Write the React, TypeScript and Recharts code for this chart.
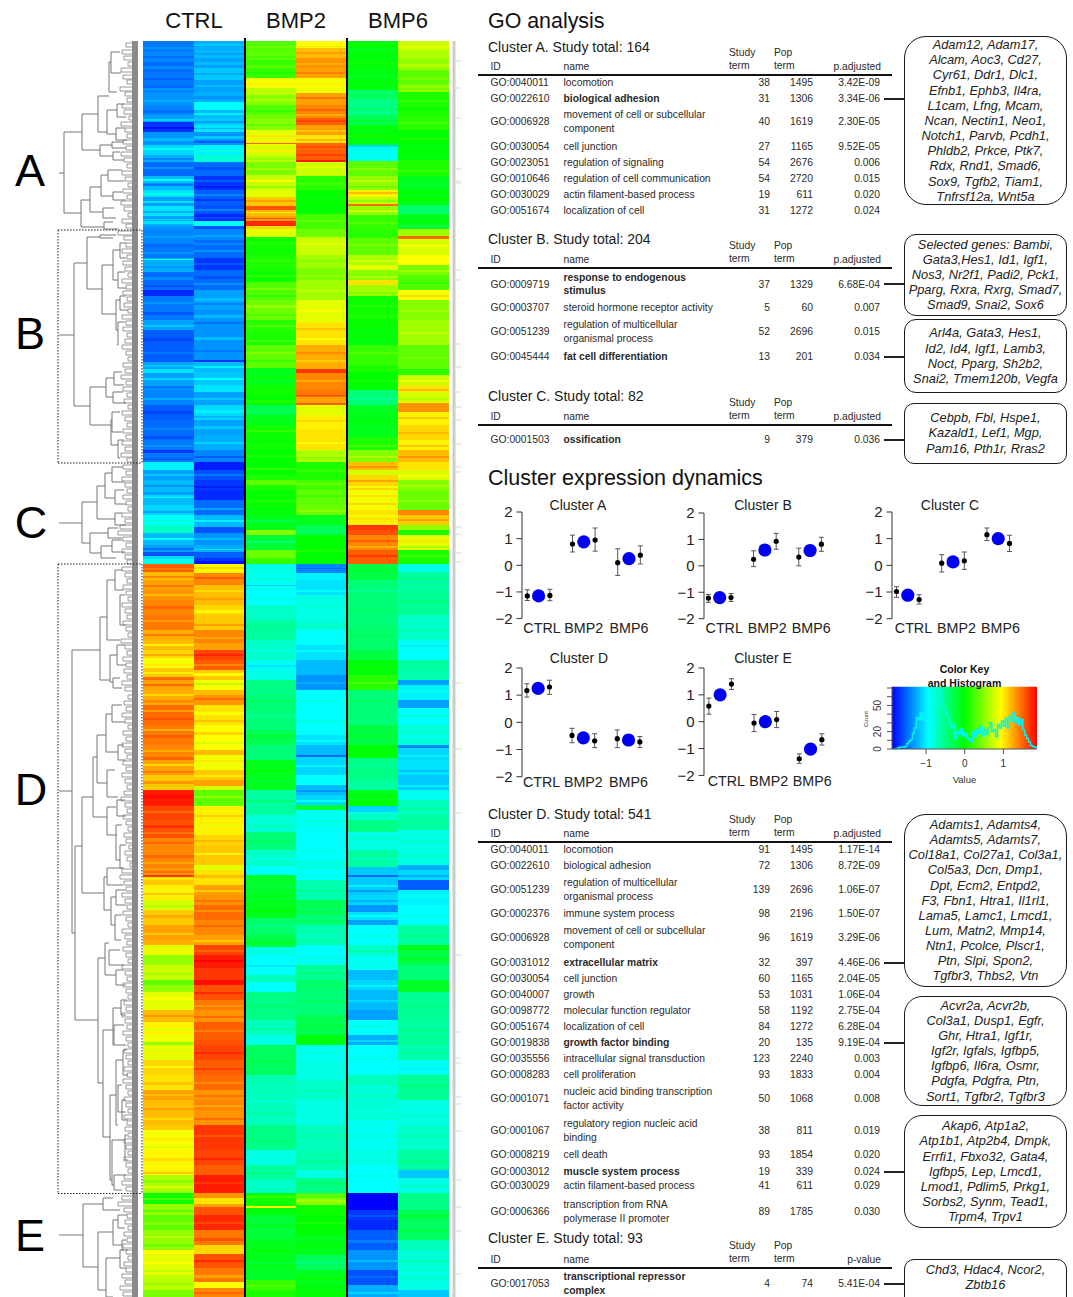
import React from "react";
import {
  BarChart, Bar, Cell, XAxis, YAxis, ScatterChart, Scatter, ErrorBar, ReferenceLine,
  ComposedChart, Line, ReferenceArea,
} from "recharts";

const FONT = "'Liberation Sans', Arial, sans-serif";

/* ---------- heatmap: [last row of the band, expression value] ---------- */
const ctrl1: number[][] = [[52,-1.45],[62,-1.4],[72,-1.5],[85,-1.45],[92,-1.5],[105,-1.35],[115,-1.4],[122,-1.3],[132,-1.7],[145,-1.35],[155,-1.1],[162,-1.25],[176,-1.5],[183,-1.2],[186,-1.35],[190,-1.2],[197,-1.05],[206,-1.3],[216,-1.05],[221,-1.3],[226,-1.05],[229,-1.35],
[247,-1.4],[258,-1.45],[272,-1.25],[290,-1.5],[296,-1.75],[320,-1.45],[330,-1.3],[345,-1.55],[362,-1.55],[369,-1.3],[373,-1.05],[390,-1.3],[405,-1.4],[420,-1.55],[440,-1.5],[450,-1.45],[453,-1.7],[462,-1.45],
[470,-1.0],[480,-1.3],[492,-1.2],[497,-1.3],[505,-1.2],[515,-1.1],[525,-0.95],[533,-0.75],[545,-1.2],[552,-1.3],[556,-1.6],[559,-1.1],[564,-0.85],
[572,1.55],[580,1.2],[590,1.3],[600,1.35],[615,1.4],[630,1.45],[640,1.25],[650,1.2],[658,1.1],[668,0.92],[677,1.15],[680,1.5],[690,1.3],[705,1.25],[725,1.5],[745,1.45],[760,1.4],[775,1.3],[790,1.15],[806,1.8],[820,1.65],[838,1.6],[850,1.4],[868,1.4],[875,1.35],[877,1.7],[880,1.05],[885,1.15],[900,1.0],[910,0.8],[925,1.15],[940,1.3],[945,1.25],[955,0.85],[965,0.55],[980,0.75],[985,0.35],[992,0.55],[1010,0.85],[1022,1.2],[1035,1.0],[1042,0.9],[1045,0.55],[1060,0.85],[1075,1.1],[1090,1.05],[1100,1.3],[1125,1.2],[1130,1.15],[1150,0.92],[1168,0.98],[1175,1.0],[1190,0.65],[1193,0.6],
[1204,0.05],[1215,0.55],[1230,0.35],[1250,0.55],[1254,0.95],[1275,0.85],[1290,0.7],[1297,0.45]];
const ctrl2: number[][] = [[50,-1.25],[58,-1.2],[68,-1.3],[80,-1.15],[92,-1.3],[102,-1.25],[110,-0.95],[118,-1.2],[125,-1.15],[132,-1.05],[145,-1.35],[155,-1.0],[162,-0.8],[176,-1.5],[190,-1.7],[205,-1.55],[214,-1.6],[221,-1.75],[226,-0.95],[229,-1.6],
[245,-1.4],[258,-1.5],[270,-1.7],[290,-1.5],[310,-1.3],[330,-1.35],[360,-1.35],[362,-1.7],[372,-1.2],[385,-1.15],[392,-1.05],[405,-1.3],[420,-1.1],[435,-1.3],[450,-1.25],[462,-1.4],
[470,-1.8],[480,-1.6],[490,-1.7],[500,-1.75],[515,-1.5],[527,-1.2],[533,-1.6],[545,-1.35],[552,-1.25],[558,-1.55],[561,-1.7],[564,-1.85],
[573,0.98],[585,1.4],[605,1.2],[615,1.1],[630,1.15],[643,1.4],[650,1.3],[660,1.65],[670,1.55],[680,1.15],[690,0.95],[695,1.2],[705,1.35],[725,1.05],[750,0.95],[755,1.2],[770,0.9],[780,1.15],[786,1.3],[790,0.8],[806,0.35],[835,1.0],[845,1.1],[865,1.15],[870,0.85],[885,1.05],[895,1.3],[905,1.35],[920,1.5],[935,1.4],[945,1.3],[955,1.65],[968,1.8],[980,1.7],[985,1.85],[1000,1.6],[1010,1.45],[1022,1.35],[1040,1.55],[1045,1.6],[1060,1.65],[1075,1.55],[1090,1.5],[1100,1.35],[1110,1.4],[1125,1.35],[1150,1.7],[1165,1.65],[1175,1.55],[1193,1.8],
[1198,1.35],[1204,1.05],[1207,1.3],[1215,1.6],[1230,1.75],[1245,1.45],[1254,1.1],[1268,1.6],[1282,1.45],[1288,0.95],[1297,1.4]];
const bmp2a: number[][] = [[52,0.3],[60,0.35],[78,0.2],[88,0.9],[95,0.7],[105,0.5],[118,0.3],[130,0.5],[140,0.85],[145,1.0],[155,0.8],[162,0.7],[175,0.45],[190,0.75],[197,0.85],[206,1.15],[210,1.6],[216,1.2],[221,1.3],[226,1.75],[229,1.1],
[237,0.85],[255,0.05],[270,0.1],[282,0.05],[300,0.3],[320,0.4],[330,0.15],[345,0.1],[368,0.35],[385,-0.1],[395,0.05],[405,0.0],[415,-0.3],[425,-0.1],[450,0.05],[462,0.0],
[475,0.0],[480,0.1],[485,0.35],[490,0.1],[515,0.02],[530,-0.1],[535,0.5],[550,-0.2],[558,0.4],[564,0.2],
[575,-0.85],[590,-0.9],[605,-0.95],[620,-0.75],[640,-0.6],[660,-0.75],[672,-0.9],[680,-0.85],[695,-0.5],[730,-0.45],[745,-0.3],[760,-0.45],[790,-0.1],[815,-0.6],[832,-0.8],[850,-0.45],[866,-0.75],[875,-0.95],[900,-0.15],[918,-0.1],[935,-0.4],[947,-0.25],[955,-0.85],[975,-0.95],[982,-0.7],[992,-0.95],[1020,-0.5],[1035,-0.7],[1045,-0.85],[1075,-0.35],[1085,-0.65],[1125,-0.7],[1150,-0.5],[1165,-0.85],[1180,-0.6],[1193,-0.75],
[1206,0.05],[1208,0.95],[1215,-0.05],[1240,-0.2],[1270,-0.1],[1280,-0.15],[1290,0.2],[1297,0.1]];
const bmp2b: number[][] = [[48,0.95],[58,1.2],[68,1.35],[78,1.3],[93,0.9],[105,1.3],[118,1.4],[125,1.55],[135,1.3],[143,1.05],[150,1.5],[160,1.55],[162,1.8],[176,0.75],[190,0.15],[204,0.02],[214,0.0],[229,0.25],
[237,0.4],[255,0.75],[268,0.6],[280,0.45],[300,0.6],[322,0.85],[345,1.05],[369,1.25],[373,1.7],[390,1.4],[397,1.45],[403,1.3],[405,1.55],[415,0.85],[430,1.0],[450,1.05],[462,0.65],
[480,0.1],[490,0.25],[505,0.35],[515,0.4],[525,-0.1],[535,-0.3],[564,0.0],
[573,-1.4],[580,-1.0],[595,-1.05],[615,-0.85],[620,-0.85],[630,-0.8],[645,-0.95],[660,-1.05],[675,-1.2],[690,-1.35],[735,-0.95],[745,-1.05],[755,-1.2],[757,-1.5],[775,-1.1],[785,-0.95],[795,-1.2],[805,-1.1],[810,-0.2],[830,-0.9],[860,-0.95],[870,-0.85],[880,-0.95],[900,-0.65],[915,-0.3],[925,-0.45],[945,-0.65],[955,-0.95],[965,-0.9],[980,-0.55],[990,-0.4],[1015,-0.45],[1035,-0.3],[1045,-0.05],[1060,-0.9],[1080,-0.85],[1100,-0.75],[1125,-0.85],[1150,-0.7],[1170,-0.65],[1178,-0.85],[1193,-0.5],
[1198,0.3],[1205,0.5],[1215,0.05],[1235,0.0],[1255,-0.1],[1270,-0.35],[1285,-0.1],[1297,-0.05]];
const bmp6a: number[][] = [[48,0.0],[54,-0.1],[90,-0.05],[100,-0.4],[115,-0.5],[125,-0.3],[145,-0.05],[147,-1.1],[161,-0.9],[176,0.35],[190,0.55],[197,1.0],[204,0.7],[206,1.5],[215,0.55],[229,0.2],
[238,0.15],[255,0.35],[265,0.65],[270,0.85],[280,0.5],[285,1.05],[296,0.6],[320,0.05],[330,0.02],[345,-0.05],[365,0.2],[372,0.1],[390,0.0],[405,-0.45],[410,-0.15],[437,-0.1],[450,0.1],[462,0.5],
[470,1.2],[475,0.8],[490,1.1],[510,0.9],[520,1.05],[525,1.0],[530,1.7],[535,1.6],[550,1.4],[564,1.55],
[580,-0.25],[600,-0.45],[625,-0.45],[650,-0.4],[660,-0.25],[675,-0.05],[690,0.15],[725,-0.45],[745,-0.25],[758,-0.02],[780,-0.5],[790,-0.6],[800,-0.1],[806,0.0],[812,-1.1],[820,-0.8],[832,-0.5],[850,-0.85],[867,-0.6],[875,-1.15],[877,-1.5],[895,-1.15],[905,-1.1],[912,-1.35],[920,-1.05],[925,-1.3],[945,-0.95],[955,-0.75],[970,-0.9],[980,-1.2],[990,-1.1],[1010,-1.2],[1020,-1.3],[1035,-0.95],[1045,-1.25],[1075,-0.95],[1085,-0.7],[1120,-0.8],[1150,-0.9],[1165,-0.85],[1193,-0.95],
[1210,-1.9],[1220,-1.7],[1230,-1.75],[1250,-1.55],[1270,-1.35],[1285,-1.6],[1297,-1.25]];
const bmp6b: number[][] = [[50,0.75],[58,0.65],[70,0.55],[85,0.35],[92,0.55],[115,0.1],[130,0.15],[145,0.0],[160,-0.05],[176,0.1],[190,-0.1],[205,-0.05],[214,-0.4],[225,-0.1],[229,-0.2],
[236,0.6],[239,1.5],[255,0.8],[265,0.95],[275,0.45],[290,0.3],[300,0.95],[320,0.5],[345,0.6],[369,0.35],[375,0.15],[385,0.75],[392,1.05],[403,0.8],[412,1.35],[425,1.0],[440,1.1],[450,1.0],[462,1.2],
[470,1.05],[480,0.8],[490,0.5],[510,0.4],[515,1.4],[525,1.15],[530,0.55],[535,0.1],[550,0.85],[564,0.1],
[572,-0.85],[590,-0.6],[615,-0.55],[640,-0.75],[650,-0.9],[660,-0.95],[670,-0.6],[680,-0.65],[685,-1.3],[700,-1.0],[708,-1.3],[725,-0.95],[745,-0.8],[748,-1.4],[760,-1.1],[775,-1.05],[790,-1.15],[800,-0.9],[815,-0.7],[830,-0.6],[865,-0.85],[870,-1.25],[880,-1.1],[890,-1.55],[905,-1.0],[925,-0.95],[945,-0.6],[950,-0.1],[965,-0.25],[980,-0.45],[992,-0.15],[1020,-0.55],[1035,-0.6],[1045,-0.55],[1060,-0.65],[1075,-0.9],[1100,-0.55],[1125,-0.85],[1150,-0.75],[1170,-0.6],[1178,-1.15],[1193,-0.85],
[1210,-0.5],[1220,-0.3],[1240,-0.35],[1250,-0.7],[1280,-0.8],[1290,-0.85],[1297,-1.15]];

/* fine stripes inside the bands: [row, rows tall, change in value] */
const ctrl1Fine = [[47,2,.1],[56,2,-.1],[66,3,.12],[78,2,-.1],[88,3,.15],[100,2,.1],[110,3,-.1],[119,2,.2],[127,2,-.15],[138,3,.15],[148,2,.2],[158,2,-.15],[167,2,.15],[179,2,.25],[184,2,-.1],[193,2,.2],[201,2,.25],[211,2,-.2],[219,1,.2],[224,2,-.2],[236,2,.1],[244,3,-.1],[252,2,.1],[259,1,.4],[266,2,-.1],[277,3,.12],[285,2,-.1],[302,2,.1],[312,3,-.12],[325,2,.15],[338,3,-.1],[352,2,.1],[365,2,.15],[378,2,.2],[386,3,-.15],[398,2,.15],[411,3,-.1],[428,2,.1],[436,3,-.1],[445,2,.1],[458,2,-.1],[474,2,.15],[485,2,-.15],[495,3,.2],[511,2,-.2],[520,2,.15],[538,2,.25],[548,2,-.2],[568,2,-.1],[576,2,.2],[585,2,.15],[594,2,-.15],[606,3,.12],[620,2,-.12],[634,2,.2],[644,2,-.2],[654,2,.15],[664,2,.1],[672,2,-.15],[684,2,.2],[694,2,-.15],[700,3,.12],[710,2,-.2],[718,2,.1],[729,2,-.2],[735,3,.1],[750,2,-.15],[757,3,.12],[764,2,-.2],[771,2,.15],[781,3,.2],[795,3,.06],[811,2,-.15],[825,3,.12],[832,2,-.12],[842,2,.12],[855,3,.12],[862,2,-.12],[871,2,.15],[893,2,.15],[905,2,-.15],[915,3,.12],[933,2,-.15],[951,2,.15],[973,2,-.12],[997,3,.1],[1015,2,.15],[1028,3,-.12],[1052,2,.15],[1066,2,-.12],[1082,3,.12],[1094,2,-.1],[1108,2,.12],[1118,2,-.12],[1138,3,.1],[1146,2,-.1],[1158,3,.1],[1172,2,.15],[1180,3,-.15],[1186,2,.15],[1198,2,.25],[1210,2,-.2],[1222,3,.15],[1236,2,.15],[1244,3,-.15],[1262,2,.12],[1270,2,-.12],[1283,2,-.15]];
const ctrl2Fine = [[44,2,.1],[53,2,-.1],[62,3,.1],[73,2,-.12],[85,2,.1],[96,3,-.1],[113,2,.2],[121,2,-.15],[128,1,-.2],[136,3,.2],[141,2,-.2],[150,2,.15],[167,3,-.1],[180,2,.15],[186,2,-.1],[194,2,.15],[199,2,-.15],[209,2,.2],[217,2,.1],[235,2,.12],[240,3,-.1],[250,2,.15],[263,2,.12],[276,3,-.1],[283,2,.15],[298,3,.12],[303,2,-.12],[315,3,.15],[322,2,-.12],[337,3,.15],[350,2,-.1],[366,2,.2],[378,2,.2],[398,2,.15],[410,3,.1],[416,2,-.12],[426,3,.15],[442,2,.15],[456,2,-.15],[474,2,.15],[486,2,-.1],[508,2,.2],[520,2,.2],[538,2,.15],[549,1,.2],[567,2,.12],[577,2,.15],[590,2,-.12],[598,2,.12],[610,3,-.12],[624,2,.15],[637,2,-.12],[654,2,.12],[664,2,-.15],[673,3,-.2],[683,2,-.25],[698,2,.15],[712,3,-.1],[720,2,.12],[732,3,.15],[742,2,-.15],[760,2,.15],[775,2,-.12],[796,2,.2],[815,2,.12],[825,2,-.12],[840,2,.12],[853,2,-.15],[875,3,.15],[890,2,-.15],[900,2,.12],[910,2,-.15],[925,2,.12],[940,2,-.15],[950,2,-.12],[960,2,.1],[992,2,.15],[1005,2,-.12],[1016,2,.15],[1030,2,-.12],[1052,2,.1],[1068,2,.12],[1082,2,-.12],[1095,2,.12],[1105,2,-.12],[1118,2,.15],[1135,2,-.12],[1158,2,.12],[1182,2,-.1],[1222,2,-.12],[1238,3,.15],[1260,2,.15],[1275,3,-.15],[1292,2,.12]];
const bmp2aFine = [[46,2,.1],[56,2,-.1],[65,3,.12],[72,2,-.1],[83,2,.1],[99,2,.15],[110,2,-.1],[115,2,.15],[124,2,-.15],[135,2,.2],[143,1,.5],[150,2,.2],[158,2,-.15],[168,2,.15],[180,2,.2],[186,2,-.2],[200,2,.15],[212,1,-.2],[218,1,.3],[242,3,.08],[260,2,.08],[275,2,.12],[288,2,.15],[295,2,-.12],[305,3,.15],[314,2,-.12],[325,2,.15],[340,2,.12],[352,2,.15],[360,2,-.12],[376,2,.12],[400,3,.1],[430,2,.15],[440,2,-.1],[455,2,.12],[468,2,.2],[500,2,.1],[510,3,-.1],[520,2,-.2],[541,2,-.25],[578,2,.12],[585,1,-.25],[598,2,.1],[625,2,.1],[650,2,-.12],[665,2,-.15],[700,2,.12],[715,2,-.1],[735,2,.15],[770,2,.12],[780,2,-.1],[800,2,.15],[825,2,.12],[840,2,.1],[858,2,-.12],[885,2,-.1],[895,2,.12],[910,2,.1],[925,2,-.12],[942,2,.12],[965,2,-.1],[1005,2,.12],[1028,2,.12],[1060,2,.1],[1100,2,-.1],[1112,2,.1],[1140,2,.1],[1172,2,.12],[1188,2,.1],[1196,2,.15],[1225,2,.12],[1250,2,.12],[1262,2,-.12],[1285,2,.1]];
const bmp2bFine = [[46,1,.1],[52,2,.12],[63,2,-.1],[72,2,.12],[83,2,.1],[97,2,.15],[109,2,.12],[114,2,-.15],[120,2,.1],[130,2,-.12],[139,2,.15],[146,2,.12],[154,2,.12],[166,2,.1],[183,2,.12],[197,2,-.08],[220,2,.12],[243,2,.1],[260,2,-.1],[275,2,.1],[290,2,.1],[310,2,.12],[328,2,.12],[338,2,-.1],[352,2,.12],[360,2,-.12],[380,2,-.15],[395,1,.2],[420,2,.1],[442,2,-.1],[457,2,-.12],[470,2,.1],[483,2,.12],[495,2,-.12],[510,2,.12],[530,2,-.1],[550,2,.1],[568,1,-.1],[590,2,.1],[605,1,.12],[625,2,.1],[650,2,.1],[682,2,.1],[700,2,.1],[720,2,.12],[740,2,.1],[765,2,.12],[790,2,-.15],[800,2,.15],[820,2,.1],[850,2,.1],[875,2,.1],[890,2,.12],[908,2,-.1],[920,2,.1],[935,2,-.1],[972,2,.1],[1000,2,.12],[1025,2,.1],[1052,2,.1],[1090,2,.1],[1135,2,.1],[1160,2,.1],[1183,2,.12],[1200,2,.12],[1222,2,.12],[1245,2,.1],[1262,2,-.1],[1278,2,.12],[1292,2,.1]];
const bmp6aFine = [[52,2,.1],[62,3,.1],[75,3,-.08],[95,2,.1],[108,2,.1],[120,2,.1],[135,2,.12],[168,2,.15],[180,2,.15],[186,2,-.15],[192,2,.2],[200,2,-.15],[210,2,.2],[222,2,.12],[244,2,.1],[260,2,.15],[276,2,.15],[292,2,-.12],[305,2,.08],[315,3,.08],[335,2,.08],[352,2,.12],[380,2,.08],[398,2,-.1],[420,2,.08],[445,2,.15],[456,2,.15],[466,2,.15],[480,2,.2],[486,2,-.2],[495,2,.15],[503,2,.2],[515,2,-.15],[540,2,.15],[546,2,-.15],[555,2,.15],[570,2,.1],[590,2,-.1],[610,2,.08],[635,2,.08],[668,2,.1],[682,2,.12],[700,2,.1],[735,2,.1],[765,2,-.1],[795,2,.08],[815,2,.12],[838,2,.12],[858,2,-.12],[885,2,.15],[890,2,-.15],[900,2,-.12],[915,2,.12],[935,2,.1],[950,2,.1],[985,2,.12],[1000,2,.12],[1025,2,.12],[1040,2,.15],[1058,2,.1],[1095,2,.1],[1110,2,-.08],[1135,2,.1],[1175,2,.08],[1215,2,.1],[1240,3,.12],[1260,2,.15],[1276,2,.1],[1292,2,.15]];
const bmp6bFine = [[46,2,.1],[64,3,.12],[78,2,.1],[88,2,-.1],[100,2,.1],[108,2,-.08],[122,2,.1],[138,2,.1],[152,2,.08],[170,2,.1],[183,2,-.1],[198,2,.08],[220,2,.1],[245,2,.12],[270,2,.12],[282,2,-.12],[295,2,.12],[310,2,.12],[332,2,.1],[357,2,.1],[380,2,.15],[389,2,.15],[398,2,-.15],[417,2,.15],[432,2,.12],[445,2,.15],[456,2,.15],[475,2,.15],[485,2,.12],[500,2,.12],[519,2,.15],[540,2,.2],[546,2,-.2],[555,2,.12],[578,2,.1],[600,2,.1],[630,2,.1],[645,2,-.12],[690,3,.12],[715,2,.15],[735,3,-.1],[755,2,.1],[770,2,-.12],[785,2,.15],[808,2,.12],[840,2,.1],[855,2,.12],[875,2,-.15],[895,2,.12],[915,2,.1],[935,2,.1],[958,2,.1],[1005,2,.1],[1030,2,.1],[1052,2,.1],[1068,2,-.1],[1085,2,.12],[1115,2,.1],[1135,2,.12],[1160,2,.1],[1185,2,.12],[1215,2,.12],[1230,2,.12],[1260,2,.15],[1272,2,-.1]];

const heatColumns = [ctrl1, ctrl2, bmp2a, bmp2b, bmp6a, bmp6b];
const heatFine = [ctrl1Fine, ctrl2Fine, bmp2aFine, bmp2bFine, bmp6aFine, bmp6bFine];
const heatNames = ["CTRL a", "CTRL b", "BMP2 a", "BMP2 b", "BMP6 a", "BMP6 b"];
const HEAT_FIRST_ROW = 41;

function jet(v: number): string {
  const t = Math.max(0, Math.min(3.9999, ((v + 1.9) / 3.8) * 4));
  const i = Math.floor(t), f = t - i;
  const stops = [[0, 0, 255], [0, 255, 255], [0, 255, 0], [255, 255, 0], [255, 0, 0]];
  const c = [0, 1, 2].map((k) => Math.round(stops[i][k] + (stops[i + 1][k] - stops[i][k]) * f));
  return `rgb(${c[0]},${c[1]},${c[2]})`;
}
function refine(col: number[][], fine: number[][]): number[][] {
  const vals: number[] = new Array(1297 - HEAT_FIRST_ROW).fill(0);
  let prev = HEAT_FIRST_ROW;
  col.forEach(([end, v]) => { for (let r = prev; r < end; r++) vals[r - HEAT_FIRST_ROW] = v; prev = end; });
  fine.forEach(([r, h, d]) => { for (let k = r; k < r + h; k++) vals[k - HEAT_FIRST_ROW] += d; });
  const out: number[][] = [];
  vals.forEach((v, i) => {
    const end = i + 1 + HEAT_FIRST_ROW;
    if (out.length && Math.abs(out[out.length - 1][1] - v) < 1e-9) out[out.length - 1][0] = end;
    else out.push([end, v]);
  });
  return out;
}
const heatBands = heatColumns.map((c, i) => refine(c, heatFine[i]));
const maxSeg = Math.max(...heatBands.map((c) => c.length));
const heatData = heatBands.map((col, ci) => {
  const d: any = { name: heatNames[ci] };
  let prev = HEAT_FIRST_ROW;
  col.forEach(([end], i) => { d[`s${i}`] = end - prev; prev = end; });
  return d;
});
const segIndex = Array.from({ length: maxSeg }, (_, i) => i);

/* ---------- dendrogram: [joinX, topY, bottomY, topChildX, bottomChildX] ---------- */
const rootStubs = [[59, 173, 64], [59, 335, 74], [59, 523, 82], [59, 791, 72], [59, 1235, 83]];
const merges = [
[64,132,213,82,81],[82,114,150,98,100],[98,96,132,109,107],[109,62,92,111,117],[111,52,73,120,121],[107,110,134,117,116],[117,104,117,124,126],[116,128,140,125,127],[100,145,156,112,113],[112,142,148,124,126],[113,152,160,120,124],[81,200,227,90,104],[90,187,212,101,103],[101,175,196,108,113],[108,170,181,122,124],[113,192,200,122,126],[103,208,218,114,116],[104,222,229,113,118],
[74,263,406,87,90],[87,237,289,100,102],[100,235,238,116,113],[102,265,314,113,116],[113,250,280,120,118],[120,243,258,126,126],[118,272,288,125,126],[116,300,330,120,118],[120,296,310,126,128],[118,322,345,125,117],[90,387,425,106,111],[106,378,397,114,113],[114,372,385,122,124],[113,392,403,123,126],[111,420,445,112,118],[112,412,432,120,122],[118,440,458,124,120],
[82,502,543,97,90],[97,486,519,105,115],[105,473,498,112,115],[112,467,482,123,125],[115,490,504,124,126],[115,513,525,122,126],[90,533,553,108,101],[108,528,538,118,122],[101,546,558,112,116],[112,540,552,122,125],
[72,650,933,100,75],[100,617,680,107,110],[107,580,640,115,120],[115,570,590,122,124],[120,595,625,125,126],[110,655,682,117,113],[117,645,665,125,126],[113,678,688,120,122],
[75,846,1020,82,98],[82,797,893,93,104],[93,757,817,97,107],[97,735,783,106,107],[106,714,752,112,118],[112,705,722,122,125],[118,745,760,124,126],[107,770,797,115,118],[107,807,835,116,117],[117,800,816,125,126],[116,825,860,122,120],[120,845,868,126,124],[104,877,910,107,111],[107,868,885,122,123],[111,897,925,116,115],[116,890,905,125,126],[115,915,940,122,121],
[98,958,1083,105,103],[105,943,975,109,116],[109,950,965,120,124],[116,970,985,124,126],[103,1030,1137,113,110],[113,1008,1045,121,114],[121,1000,1015,127,126],[114,1025,1045,124,126],[110,1095,1180,116,112],[116,1060,1125,123,118],[123,1050,1075,127,128],[118,1085,1112,122,126],[122,1100,1120,126,128],[112,1140,1185,125,114],[125,1135,1160,127,128],[114,1175,1190,126,122],
[83,1204,1267,103,98],[103,1198,1210,113,120],[98,1232,1290,113,106],[113,1220,1245,118,122],[118,1215,1228,127,125],[122,1240,1250,126,128],[106,1258,1297,120,113],[120,1250,1268,124,126],
];
const twigRowsA = [[43,126],[50,122],[56,124],[62,128],[68,121],[75,123],[80,127],[87,120],[92,125],[98,127],[104,122],[110,124],[116,129],[122,121],[128,125],[134,127],[140,123],[146,126],[152,121],[158,124],[164,127],[171,122],[177,125],[183,128],[189,123],[195,127],[201,121],[207,124],[213,128],[219,122],[224,126]];
const twigRowsB = [[231,118],[236,124],[243,126],[249,122],[255,127],[261,123],[267,125],[273,128],[279,122],[285,126],[291,123],[297,127],[303,124],[309,128],[315,122],[321,126],[327,123],[333,127],[339,125],[345,122],[351,126],[357,128],[363,123],[369,125],[375,121],[381,126],[387,123],[393,127],[399,124],[405,128],[411,122],[417,125],[423,127],[429,123],[435,126],[441,122],[447,125],[453,121],[458,127]];
const twigRowsC = [[465,123],[471,126],[477,122],[483,125],[489,127],[495,123],[501,126],[507,128],[513,122],[519,125],[525,120],[531,118],[537,123],[543,126],[549,122],[555,125],[560,127]];
const twigRowsD = [[567,122],[573,125],[579,127],[585,123],[591,126],[597,128],[603,122],[609,125],[615,127],[621,123],[627,126],[633,128],[639,121],[645,125],[651,127],[657,123],[663,126],[669,124],[675,127],[681,122],[687,125],[695,128],[701,124],[707,126],[713,122],[719,125],[725,128],[731,123],[737,126],[743,122],[749,125],[755,127],[761,123],[767,126],[773,122],[779,125],[785,127],[791,124],[797,121],[803,125],[809,127],[815,123],[821,126],[827,128],[833,124],[839,126],[845,129],[851,125],[857,127],[863,130],[869,122],[875,120],[881,124],[887,126],[893,122],[899,125],[905,127],[911,123],[917,126],[923,128],[929,122],[935,125],[941,127],[947,123],[953,126],[959,128],[965,122],[971,125],[977,127],[983,123],[989,126],[995,128],[1001,124],[1007,126],[1013,122],[1019,125],[1025,127],[1031,123],[1037,126],[1043,128],[1049,124],[1055,126],[1061,128],[1067,124],[1073,127],[1079,123],[1085,126],[1091,128],[1097,124],[1103,126],[1109,128],[1115,124],[1121,127],[1127,125],[1133,128],[1139,124],[1145,126],[1151,128],[1157,124],[1163,126],[1169,128],[1175,124],[1181,122],[1187,126]];
const twigRowsE = [[1196,122],[1202,118],[1208,124],[1214,127],[1220,125],[1226,128],[1232,124],[1238,127],[1244,123],[1250,126],[1256,128],[1262,124],[1268,126],[1274,122],[1280,125],[1286,120],[1292,123]];
const twigs = [...twigRowsA, ...twigRowsB, ...twigRowsC, ...twigRowsD, ...twigRowsE];
const stripTicks = [61,88,118,169,181,183,270,280,344,367,392,407,420,444,467,472,527,534,553,562,683,749,813,955,1032,1058,1063,1097,1104,1131,1180,1207,1231,1274];
const overlayCorners = [{ x: 0, y: 0 }, { x: 1073, y: 1297 }];

/* ---------- cluster dynamics ---------- */
const xPos = [1, 2, 3, 5, 6, 7, 9, 10, 11];
const repIdx = [0, 2, 3, 5, 6, 8];
const meanIdx = [1, 4, 7];
const categories = ["CTRL", "BMP2", "BMP6"];
const clusterARep = [[-1.15,-1.32,-0.92],[-1.13,-1.33,-0.9],[0.8,0.5,1.13],[0.95,0.53,1.4],[0.1,-0.38,0.62],[0.38,0.05,0.73]];
const clusterBRep = [[-1.22,-1.38,-1.08],[-1.2,-1.35,-1.05],[0.25,-0.03,0.57],[0.93,0.63,1.23],[0.33,0,0.67],[0.82,0.55,1.08]];
const clusterCRep = [[-0.98,-1.2,-0.8],[-1.28,-1.45,-1.1],[0.08,-0.25,0.4],[0.17,-0.15,0.5],[1.15,0.93,1.4],[0.82,0.52,1.13]];
const clusterDRep = [[1.17,0.93,1.42],[1.3,1.03,1.55],[-0.48,-0.75,-0.22],[-0.68,-0.93,-0.42],[-0.6,-0.93,-0.28],[-0.72,-0.93,-0.52]];
const clusterERep = [[0.58,0.28,0.88],[1.4,1.2,1.6],[-0.05,-0.37,0.27],[0.08,-0.22,0.38],[-1.38,-1.55,-1.2],[-0.67,-0.87,-0.45]];
const clusterAMean = [-1.15, 0.88, 0.25];
const clusterBMean = [-1.2, 0.6, 0.58];
const clusterCMean = [-1.12, 0.13, 1.0];
const clusterDMean = [1.25, -0.57, -0.65];
const clusterEMean = [1.0, 0.0, -1.02];
const panels = [
  { title: "Cluster A", rep: clusterARep, mean: clusterAMean, left: 521.5, top: 511.7, bot: 618.3, titleX: 578, titleY: 504.5, x0: 0.53, labelX: [2.3, 6, 10], labelDy: 14.5 },
  { title: "Cluster B", rep: clusterBRep, mean: clusterBMean, left: 703.6, top: 513.3, bot: 619, titleX: 763, titleY: 504.5, x0: 0.61, labelX: [2.4, 6.2, 10.1], labelDy: 14 },
  { title: "Cluster C", rep: clusterCRep, mean: clusterCMean, left: 892.4, top: 512.3, bot: 619, titleX: 950, titleY: 504.5, x0: 0.6, labelX: [2.5, 6.3, 10.2], labelDy: 14 },
  { title: "Cluster D", rep: clusterDRep, mean: clusterDMean, left: 521.5, top: 668, bot: 776.7, titleX: 579, titleY: 657.5, x0: 0.57, labelX: [2.3, 6, 10], labelDy: 10 },
  { title: "Cluster E", rep: clusterERep, mean: clusterEMean, left: 703.6, top: 668.3, bot: 775.7, titleX: 763, titleY: 657.5, x0: 0.57, labelX: [2.55, 6.3, 10.15], labelDy: 11 },
];

/* ---------- colour key histogram ---------- */
const histValue = [-1.85,-1.8,-1.75,-1.7,-1.65,-1.6,-1.55,-1.5,-1.45,-1.4,-1.35,-1.3,-1.25,-1.2,-1.15,-1.1,-1.05,-1,-0.95,-0.9,-0.85,-0.8,-0.75,-0.7,-0.65,-0.6,-0.55,-0.5,-0.45,-0.4,-0.35,-0.3,-0.25,-0.2,-0.15,-0.1,-0.05,0,0.05,0.1,0.15,0.2,0.25,0.3,0.35,0.4,0.45,0.5,0.55,0.6,0.65,0.7,0.75,0.8,0.85,0.9,0.95,1,1.05,1.1,1.15,1.2,1.25,1.3,1.35,1.4,1.45,1.5,1.55,1.6,1.65,1.7,1.75,1.8,1.85];
const histCount = [0,0,1,2,2,2,3,6,9,11,18,24,36,34,42,33,40,30,31,27,25,38,52,58,68,52,46,42,38,30,24,28,12,20,17,23,15,18,13,11,8,20,14,22,18,26,15,22,17,24,30,20,22,14,28,24,32,26,35,24,38,32,42,30,36,28,34,22,16,12,8,4,3,2,0];
const histData = histValue.map((v, i) => ({ v, c: histCount[i] }));

/* ---------- GO tables ---------- */
type Row = [string, string, number, number, string, boolean?];
const goA: Row[] = [["GO:0040011","locomotion",38,1495,"3.42E-09"],["GO:0022610","biological adhesion",31,1306,"3.34E-06",true],["GO:0006928","movement of cell or subcellular\ncomponent",40,1619,"2.30E-05"],["GO:0030054","cell junction",27,1165,"9.52E-05"],["GO:0023051","regulation of signaling",54,2676,"0.006"],["GO:0010646","regulation of cell communication",54,2720,"0.015"],["GO:0030029","actin filament-based process",19,611,"0.020"],["GO:0051674","localization of cell",31,1272,"0.024"]];
const goB: Row[] = [["GO:0009719","response to endogenous\nstimulus",37,1329,"6.68E-04",true],["GO:0003707","steroid hormone receptor activity",5,60,"0.007"],["GO:0051239","regulation of multicellular\norganismal process",52,2696,"0.015"],["GO:0045444","fat cell differentiation",13,201,"0.034",true]];
const goC: Row[] = [["GO:0001503","ossification",9,379,"0.036",true]];
const goD: Row[] = [["GO:0040011","locomotion",91,1495,"1.17E-14"],["GO:0022610","biological adhesion",72,1306,"8.72E-09"],["GO:0051239","regulation of multicellular\norganismal process",139,2696,"1.06E-07"],["GO:0002376","immune system process",98,2196,"1.50E-07"],["GO:0006928","movement of cell or subcellular\ncomponent",96,1619,"3.29E-06"],["GO:0031012","extracellular matrix",32,397,"4.46E-06",true],["GO:0030054","cell junction",60,1165,"2.04E-05"],["GO:0040007","growth",53,1031,"1.06E-04"],["GO:0098772","molecular function regulator",58,1192,"2.75E-04"],["GO:0051674","localization of cell",84,1272,"6.28E-04"],["GO:0019838","growth factor binding",20,135,"9.19E-04",true],["GO:0035556","intracellular signal transduction",123,2240,"0.003"],["GO:0008283","cell proliferation",93,1833,"0.004"],["GO:0001071","nucleic acid binding transcription\nfactor activity",50,1068,"0.008"],["GO:0001067","regulatory region nucleic acid\nbinding",38,811,"0.019"],["GO:0008219","cell death",93,1854,"0.020"],["GO:0003012","muscle system process",19,339,"0.024",true],["GO:0030029","actin filament-based process",41,611,"0.029"],["GO:0006366","transcription from RNA\npolymerase II promoter",89,1785,"0.030"]];
const goE: Row[] = [["GO:0017053","transcriptional repressor\ncomplex",4,74,"5.41E-04",true]];
const tables = [
  { title: "Cluster A. Study total: 164", rows: goA, ys: [83,99,122,147,163,179,195,211], titleY: 47, studyY: 53, termY: 66, headY: 67, ruleY: 74, pLabel: "p.adjusted" },
  { title: "Cluster B. Study total: 204", rows: goB, ys: [284.5,308,332,357], titleY: 239, studyY: 246, termY: 259, headY: 260, ruleY: 267, pLabel: "p.adjusted" },
  { title: "Cluster C. Study total: 82", rows: goC, ys: [440], titleY: 396, studyY: 403, termY: 416, headY: 417, ruleY: 424, pLabel: "p.adjusted" },
  { title: "Cluster D. Study total: 541", rows: goD, ys: [850,866,890,914,938,963,979,995,1011,1027,1043,1059,1075,1099,1131,1155,1172,1186,1212], titleY: 814, studyY: 820, termY: 833, headY: 834, ruleY: 841, pLabel: "p.adjusted" },
  { title: "Cluster E. Study total: 93", rows: goE, ys: [1284], titleY: 1238, studyY: 1246, termY: 1259, headY: 1260, ruleY: 1267, pLabel: "p-value" },
];

const boxes = [
  { top: 36, bottom: 205, r: 22, link: 99, lines: ["Adam12, Adam17,","Alcam, Aoc3, Cd27,","Cyr61, Ddr1, Dlc1,","Efnb1, Ephb3, Il4ra,","L1cam, Lfng, Mcam,","Ncan, Nectin1, Neo1,","Notch1, Parvb, Pcdh1,","Phldb2, Prkce, Ptk7,","Rdx, Rnd1, Smad6,","Sox9, Tgfb2, Tiam1,","Tnfrsf12a, Wnt5a"] },
  { top: 233.5, bottom: 316, r: 12, link: 284, lines: ["Selected genes: Bambi,","Gata3,Hes1, Id1, Igf1,","Nos3, Nr2f1, Padi2, Pck1,","Pparg, Rxra, Rxrg, Smad7,","Smad9, Snai2, Sox6"] },
  { top: 318.5, bottom: 393, r: 12, link: 357, lines: ["Arl4a, Gata3, Hes1,","Id2, Id4, Igf1, Lamb3,","Noct, Pparg, Sh2b2,","Snai2, Tmem120b, Vegfa"] },
  { top: 402.5, bottom: 463.5, r: 10, link: 440, lines: ["Cebpb, Fbl, Hspe1,","Kazald1, Lef1, Mgp,","Pam16, Pth1r, Rras2"] },
  { top: 813.5, bottom: 987, r: 22, link: 963, lines: ["Adamts1, Adamts4,","Adamts5, Adamts7,","Col18a1, Col27a1, Col3a1,","Col5a3, Dcn, Dmp1,","Dpt, Ecm2, Entpd2,","F3, Fbn1, Htra1, Il1rl1,","Lama5, Lamc1, Lmcd1,","Lum, Matn2, Mmp14,","Ntn1, Pcolce, Plscr1,","Ptn, Slpi, Spon2,","Tgfbr3, Thbs2, Vtn"] },
  { top: 995.5, bottom: 1106, r: 18, link: 1043, lines: ["Acvr2a, Acvr2b,","Col3a1, Dusp1, Egfr,","Ghr, Htra1, Igf1r,","Igf2r, Igfals, Igfbp5,","Igfbp6, Il6ra, Osmr,","Pdgfa, Pdgfra, Ptn,","Sort1, Tgfbr2, Tgfbr3"] },
  { top: 1115, bottom: 1227.5, r: 18, link: 1172, lines: ["Akap6, Atp1a2,","Atp1b1, Atp2b4, Dmpk,","Errfi1, Fbxo32, Gata4,","Igfbp5, Lep, Lmcd1,","Lmod1, Pdlim5, Prkg1,","Sorbs2, Synm, Tead1,","Trpm4, Trpv1"] },
  { top: 1259, bottom: 1310, r: 10, link: 1284, lines: ["Chd3, Hdac4, Ncor2,","Zbtb16"], textTop: 1266 },
];

const sampleHeads = [["CTRL", 194], ["BMP2", 296], ["BMP6", 398]] as [string, number][];
const clusterLetters = [["A", 30, 171], ["B", 30, 334], ["C", 31, 523], ["D", 31, 790], ["E", 30, 1236]] as [string, number, number][];

/* ---------- helpers ---------- */
function T({ x, y, right, size = 10.3, bold, italic, color = "#2a2a2a", center, children }: any) {
  const st: React.CSSProperties = {
    position: "absolute", top: y - 10, height: 20, lineHeight: "20px", fontSize: size, fontFamily: FONT,
    fontWeight: bold ? "bold" : "normal", fontStyle: italic ? "italic" : "normal", color, whiteSpace: "nowrap",
  };
  if (right !== undefined) { st.right = 1073 - right; }
  else if (center) { st.left = x - 200; st.width = 400; st.textAlign = "center"; }
  else st.left = x;
  return <div style={st}>{children}</div>;
}

function HeatMap() {
  return (
    <div style={{ position: "absolute", left: 143, top: HEAT_FIRST_ROW, filter: "blur(0.35px)" }}>
      <BarChart width={306} height={1256} data={heatData} margin={{ top: 0, right: 0, bottom: 0, left: 0 }} barCategoryGap={0} barGap={0}>
        <XAxis dataKey="name" hide />
        <YAxis type="number" domain={[0, 1256]} reversed hide />
        {segIndex.map((i) => (
          <Bar key={i} dataKey={`s${i}`} stackId="h" isAnimationActive={false}>
            {heatBands.map((col, c) => <Cell key={c} fill={col[i] ? jet(col[i][1]) : "transparent"} />)}
          </Bar>
        ))}
      </BarChart>
    </div>
  );
}

const LINE = "#777777";
function seg(k: string, x1: number, y1: number, x2: number, y2: number, stroke = LINE, w = 1, dash?: string) {
  return <ReferenceLine key={k} segment={[{ x: x1, y: y1 }, { x: x2, y: y2 }]} stroke={stroke} strokeWidth={w} strokeDasharray={dash} ifOverflow="visible" />;
}

function Overlay() {
  const els: React.ReactNode[] = [];
  rootStubs.forEach(([a, y, b], i) => els.push(seg(`st${i}`, a, y, b, y)));
  merges.forEach(([x, t, b, cx1, cx2], i) => {
    els.push(seg(`mv${i}`, x, t, x, b));
    els.push(seg(`mt${i}`, x, t, cx1, t));
    els.push(seg(`mb${i}`, x, b, cx2, b));
  });
  twigs.forEach(([y, x], i) => {
    els.push(seg(`tv${i}`, x, y, x, y + 4, "#808080", 0.8));
    els.push(seg(`tt${i}`, x, y, 137, y, "#808080", 0.8));
    els.push(seg(`tb${i}`, x, y + 4, 137, y + 4, "#808080", 0.8));
  });
  stripTicks.forEach((y, i) => els.push(seg(`rt${i}`, 456, y, 461, y, "#bbbbbb", 0.6)));
  return (
    <div style={{ position: "absolute", left: 0, top: 0, pointerEvents: "none" }}>
      <ScatterChart width={1073} height={1297} margin={{ top: 0, right: 0, bottom: 0, left: 0 }}>
        <XAxis type="number" dataKey="x" domain={[0, 1073]} hide />
        <YAxis type="number" dataKey="y" domain={[0, 1297]} reversed hide />
        <Scatter data={overlayCorners} isAnimationActive={false} shape={() => <g />} />
        {els}
        {seg("g1", 135, 41, 135, 1297, "#8a8a8a", 6)}
        {seg("s1", 454, 41, 454, 1297, "#cccccc", 3)}
        {seg("v1", 245, 38, 245, 1297, "#000", 2)}
        {seg("v2", 347, 38, 347, 1297, "#000", 2)}
        {seg("bt", 58, 230, 142, 230, "#222", 1, "1.5 1.5")}
        {seg("bl", 58, 230, 58, 463, "#222", 1, "1.5 1.5")}
        {seg("bb", 58, 463, 142, 463, "#222", 1, "1.5 1.5")}
        {seg("br", 142, 230, 142, 463, "#222", 1, "1.5 1.5")}
        {seg("dt", 58, 564, 142, 564, "#222", 1, "1.5 1.5")}
        {seg("dl", 58, 564, 58, 1193.5, "#222", 1, "1.5 1.5")}
        {seg("db", 58, 1193.5, 142, 1193.5, "#222", 1, "1.5 1.5")}
        {seg("dr", 142, 564, 142, 1193.5, "#222", 1, "1.5 1.5")}
      </ScatterChart>
    </div>
  );
}

const yLabel = (v: number) => (v < 0 ? `\u2212${-v}` : `${v}`);
function Panel({ p }: { p: (typeof panels)[number] }) {
  const axisW = 36, mt = 12, xh = 24, unit = 11.3;
  const x1 = 11.9;
  const plotW = (x1 - p.x0) * unit;
  const plotH = p.bot - p.top;
  const repData = repIdx.map((xi, i) => {
    const [m, lo, hi] = p.rep[i];
    return { x: xPos[xi], y: m, err: [m - lo, hi - m] };
  });
  const meanData = meanIdx.map((xi, i) => ({ x: xPos[xi], y: p.mean[i] }));
  const tick = (props: any) => {
    const i = p.labelX.indexOf(props.payload.value);
    return <text x={props.x} y={plotH + mt + p.labelDy} textAnchor="middle" fontSize={14.3} fontFamily={FONT} fill="#222">{categories[i]}</text>;
  };
  return (
    <div style={{ position: "absolute", left: p.left - axisW, top: p.top - mt }}>
      <ScatterChart width={axisW + plotW} height={mt + plotH + xh} margin={{ top: mt, right: 0, bottom: 0, left: 0 }}>
        <XAxis type="number" dataKey="x" domain={[p.x0, x1]} ticks={p.labelX} interval={0} tick={tick} axisLine={false} tickLine={false} height={xh} allowDataOverflow />
        <YAxis type="number" dataKey="y" domain={[-2, 2]} ticks={[-2, -1, 0, 1, 2]} interval={0} width={axisW} tickSize={5.5} tickMargin={4} tickFormatter={yLabel}
          tick={{ fontSize: 15, fontFamily: FONT, fill: "#222" }} stroke="#333" />
        <Scatter data={repData} isAnimationActive={false} fill="#000" shape={(s: any) => <circle cx={s.cx} cy={s.cy} r={2.6} fill="#000" />}>
          <ErrorBar dataKey="err" direction="y" width={2.5} stroke="#555" strokeWidth={1} isAnimationActive={false} />
        </Scatter>
        <Scatter data={meanData} isAnimationActive={false} fill="#0000f0" shape={(s: any) => <circle cx={s.cx} cy={s.cy} r={6.6} fill="#0000f0" />} />
      </ScatterChart>
    </div>
  );
}

function ColorKey() {
  const keyTick = (props: any) => {
    const v = props.payload.value;
    if (![0, 20, 50].includes(v)) return <g />;
    return <text transform={`translate(${props.x - 8},${props.y}) rotate(-90)`} textAnchor="middle" fontSize={10} fontFamily={FONT} fill="#333" dy={3.5}>{v}</text>;
  };
  return (
    <div style={{ position: "absolute", left: 860, top: 682 }}>
      <ComposedChart width={180} height={92} data={histData} margin={{ top: 4.7, right: 3, bottom: 0, left: 0 }}>
        <defs>
          <linearGradient id="keyGrad" x1="0" x2="1" y1="0" y2="0">
            <stop offset="0" stopColor="#0000ff" />
            <stop offset="0.25" stopColor="#00ffff" />
            <stop offset="0.5" stopColor="#00ff00" />
            <stop offset="0.75" stopColor="#ffff00" />
            <stop offset="1" stopColor="#ff0000" />
          </linearGradient>
        </defs>
        <XAxis type="number" dataKey="v" domain={[-1.88, 1.87]} ticks={[-1, 0, 1]} interval={0} tickSize={5} tickFormatter={yLabel} height={25} stroke="#555"
          tick={{ fontSize: 10, fontFamily: FONT, fill: "#333" }} tickMargin={6} />
        <YAxis type="number" domain={[0, 71.5]} ticks={[0, 10, 20, 30, 40, 50, 60, 70]} interval={0} width={32} tickSize={5} tick={keyTick} stroke="#555" />
        <ReferenceArea x1={-1.88} x2={1.87} y1={0} y2={71.5} fill="url(#keyGrad)" fillOpacity={1} stroke="none" />
        <Line type="stepAfter" dataKey="c" stroke="#00f6f6" strokeWidth={1.5} dot={false} isAnimationActive={false} />
      </ComposedChart>
    </div>
  );
}

function GoTable({ t }: { t: (typeof tables)[number] }) {
  return (
    <>
      <T x={488} y={t.titleY} size={14} color="#1a1a1a">{t.title}</T>
      <T x={729} y={t.studyY}>Study</T>
      <T x={729} y={t.termY}>term</T>
      <T x={774} y={t.studyY}>Pop</T>
      <T x={774} y={t.termY}>term</T>
      <T x={490.5} y={t.headY}>ID</T>
      <T x={563.5} y={t.headY}>name</T>
      <T right={881} y={t.headY}>{t.pLabel}</T>
      <div style={{ position: "absolute", left: 478, width: 414, top: t.ruleY, height: 2, background: "#111" }} />
      {t.rows.map((r, i) => {
        const y = t.ys[i];
        const parts = r[1].split("\n");
        return (
          <React.Fragment key={i}>
            <T x={490.5} y={y}>{r[0]}</T>
            {parts.length === 1
              ? <T x={563.5} y={y} bold={r[5]}>{r[1]}</T>
              : parts.map((s, j) => <T key={j} x={563.5} y={y + (j === 0 ? -6.7 : 6.7)} bold={r[5]}>{s}</T>)}
            <T right={770} y={y}>{r[2]}</T>
            <T right={813} y={y}>{r[3]}</T>
            <T right={880} y={y}>{r[4]}</T>
          </React.Fragment>
        );
      })}
    </>
  );
}

function GeneBox({ b }: { b: (typeof boxes)[number] }) {
  return (
    <>
      <div style={{ position: "absolute", left: 883.5, width: 21, top: b.link - 0.6, height: 1.3, background: "#222" }} />
      <div style={{
        position: "absolute", left: 903.7, width: 163.5, top: b.top, height: b.bottom - b.top, boxSizing: "border-box",
        border: "1.4px solid #1a1a1a", borderRadius: b.r, background: "#fff", display: "flex", flexDirection: "column",
        justifyContent: (b as any).textTop ? "flex-start" : "center", paddingTop: (b as any).textTop ? 2 : 0,
      }}>
        {b.lines.map((l, i) => (
          <div key={i} style={{ textAlign: "center", fontFamily: FONT, fontStyle: "italic", fontSize: 12.8, lineHeight: "15.15px", color: "#222", whiteSpace: "nowrap" }}>{l}</div>
        ))}
      </div>
    </>
  );
}

export default function App() {
  return (
    <div style={{ position: "absolute", left: 0, top: 0, width: 1073, height: 1297, overflow: "hidden", background: "#fff" }}>
      <HeatMap />
      <Overlay />
      {sampleHeads.map(([s, x]) => <T key={s} x={x} y={20.5} size={22} center color="#111">{s}</T>)}
      {clusterLetters.map(([s, x, y]) => <T key={s} x={x} y={y} size={45} center color="#000">{s}</T>)}
      <T x={488} y={20.5} size={21.4} color="#111">GO analysis</T>
      <T x={488} y={478} size={21.5} color="#111">Cluster expression dynamics</T>
      {tables.map((t) => <GoTable key={t.title} t={t} />)}
      {boxes.map((b, i) => <GeneBox key={i} b={b} />)}
      {panels.map((p) => <Panel key={p.title} p={p} />)}
      {panels.map((p) => <T key={p.title} x={p.titleX} y={p.titleY} size={14} center color="#222">{p.title}</T>)}
      <ColorKey />
      <T x={964.5} y={669} size={10.5} bold center color="#111">Color Key</T>
      <T x={964.5} y={682.5} size={10.5} bold center color="#111">and Histogram</T>
      <T x={964.5} y={780} size={9.5} center color="#333">Value</T>
      <div style={{ position: "absolute", left: 846, top: 714, width: 40, textAlign: "center", transform: "rotate(-90deg)", fontSize: 6, fontFamily: FONT, color: "#333", lineHeight: "10px" }}>Count</div>
    </div>
  );
}
